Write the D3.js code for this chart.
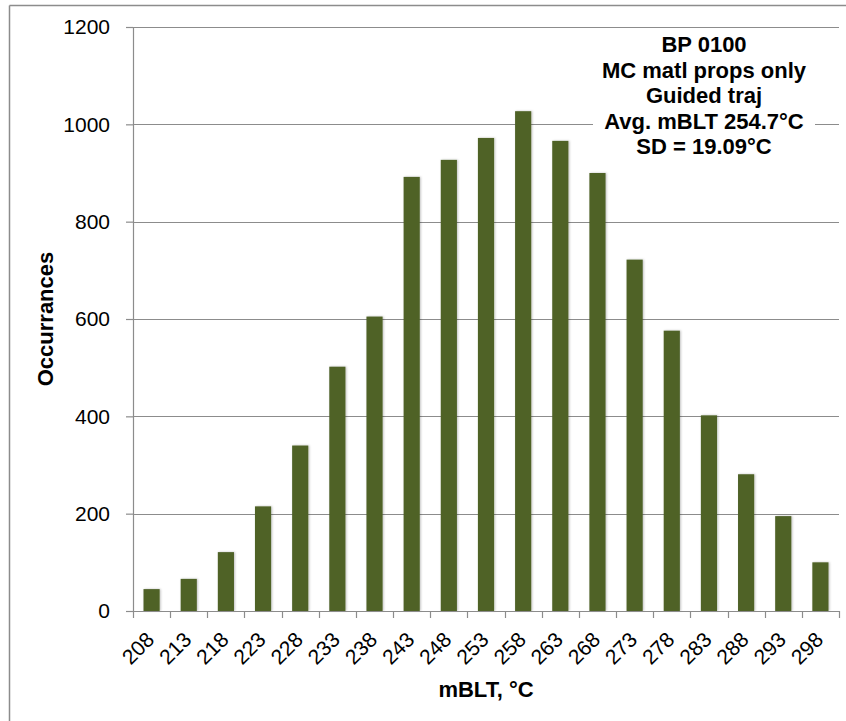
<!DOCTYPE html>
<html lang="en">
<head>
    <meta charset="UTF-8">
    <title>mBLT histogram</title>
    <style>
        body {
            margin: 0;
            padding: 0;
            background: #fff;
            font-family: "Liberation Sans", Arial, sans-serif;
        }
        svg {
            display: block;
        }
        .grid line {
            stroke: #8c8c8c;
            stroke-width: 1.2;
        }
        .axis path, .axis line {
            stroke: #8c8c8c;
            stroke-width: 1.2;
        }
        .axis text {
            font-family: "Liberation Sans", Arial, sans-serif;
            font-size: 21px;
            fill: #000;
        }
        .label {
            font-family: "Liberation Sans", Arial, sans-serif;
            font-size: 22px;
            font-weight: bold;
        }
    </style>
</head>
<body>
    <div id="chart"></div>

    <script src="https://d3js.org/d3.v7.min.js"></script>
    <script>
        // bins (mBLT, °C) and counts
        const bins = ["208", "213", "218", "223", "228", "233", "238", "243", "248", "253",
                      "258", "263", "268", "273", "278", "283", "288", "293", "298"];
        const counts = [45, 66, 121, 215, 340, 502, 605, 892, 927, 972,
                        1027, 966, 900, 722, 576, 402, 281, 195, 100];
        const yTicks = [0, 200, 400, 600, 800, 1000, 1200];
        const noteLines = ["BP 0100", "MC matl props only", "Guided traj", "Avg. mBLT 254.7°C", "SD = 19.09°C"];

        const W = 846, H = 721;
        const margin = { top: 27, right: 7, bottom: 110, left: 133 };
        const width = W - margin.left - margin.right;
        const height = H - margin.top - margin.bottom;

        const root = d3.select("#chart")
            .append("svg")
            .attr("width", W)
            .attr("height", H);

        // outer frame (only top and left edges show)
        root.append("line")
            .attr("x1", 9.5).attr("y1", 5.5).attr("x2", W).attr("y2", 5.5)
            .attr("stroke", "#8c8c8c").attr("stroke-width", 1.5);
        root.append("line")
            .attr("x1", 9.5).attr("y1", 5.5).attr("x2", 9.5).attr("y2", H)
            .attr("stroke", "#8c8c8c").attr("stroke-width", 1.5);

        const defs = root.append("defs");
        const shadow = defs.append("filter").attr("id", "shadow")
            .attr("x", "-30%").attr("y", "-10%").attr("width", "160%").attr("height", "120%");
        shadow.append("feDropShadow")
            .attr("dx", 1).attr("dy", 0).attr("stdDeviation", 1.2)
            .attr("flood-color", "#000").attr("flood-opacity", 0.25);

        const svg = root.append("g")
            .attr("transform", `translate(${margin.left}, ${margin.top})`);

        const x = d3.scaleBand()
            .domain(bins)
            .range([0, width])
            .paddingInner(0.565)
            .paddingOuter(0.2825);

        const y = d3.scaleLinear()
            .domain([0, 1200])
            .range([height, 0]);

        // gridlines
        svg.append("g")
            .attr("class", "grid")
            .selectAll("line")
            .data(yTicks.filter(d => d > 0))
            .enter()
            .append("line")
            .attr("x1", 0)
            .attr("x2", width)
            .attr("y1", d => Math.round(y(d)) + 0.5)
            .attr("y2", d => Math.round(y(d)) + 0.5);

        // note box, white background hides gridlines behind it
        const noteX = 704;
        const noteY = 52;
        const lineH = 25.6;
        svg.append("rect")
            .attr("x", 593 - margin.left)
            .attr("y", 30 - margin.top)
            .attr("width", 222)
            .attr("height", 132)
            .attr("fill", "#fff");
        const note = svg.append("text")
            .attr("class", "label")
            .attr("text-anchor", "middle");
        note.selectAll("tspan")
            .data(noteLines)
            .enter()
            .append("tspan")
            .attr("x", noteX - margin.left)
            .attr("y", (d, i) => noteY - margin.top + i * lineH)
            .text(d => d);

        // bars
        svg.selectAll(".bar")
            .data(bins)
            .enter()
            .append("rect")
            .attr("class", "bar")
            .attr("x", d => x(d))
            .attr("y", (d, i) => y(counts[i]))
            .attr("width", x.bandwidth())
            .attr("height", (d, i) => height - y(counts[i]))
            .attr("fill", "#4f6228")
            .attr("filter", "url(#shadow)");

        // y axis
        const yAxis = svg.append("g")
            .attr("class", "axis")
            .call(d3.axisLeft(y).tickValues(yTicks).tickFormat(d3.format("d")).tickSize(7).tickPadding(16));
        yAxis.select(".domain").attr("d", `M0.5,0V${height}`);

        // x axis with ticks between categories
        const step = x.step();
        const xAxis = svg.append("g")
            .attr("class", "axis")
            .attr("transform", `translate(0, ${height})`);
        xAxis.append("line")
            .attr("x1", 0).attr("x2", width)
            .attr("y1", 0.5).attr("y2", 0.5);
        xAxis.selectAll(".sep")
            .data(d3.range(bins.length + 1))
            .enter()
            .append("line")
            .attr("class", "sep")
            .attr("x1", i => Math.round(i * step) + 0.5)
            .attr("x2", i => Math.round(i * step) + 0.5)
            .attr("y1", 0)
            .attr("y2", 7);
        xAxis.selectAll(".tlab")
            .data(bins)
            .enter()
            .append("text")
            .attr("class", "tlab")
            .attr("text-anchor", "end")
            .attr("transform", d => `translate(${x(d) + x.bandwidth() / 2 + 4}, 30) rotate(-45)`)
            .text(d => d);

        // axis titles
        root.append("text")
            .attr("class", "label")
            .attr("text-anchor", "middle")
            .attr("x", margin.left + width / 2)
            .attr("y", 697)
            .text("mBLT, °C");

        root.append("text")
            .attr("class", "label")
            .attr("text-anchor", "middle")
            .attr("transform", `translate(53, ${margin.top + height / 2}) rotate(-90)`)
            .text("Occurrances");
    </script>
</body>
</html>
